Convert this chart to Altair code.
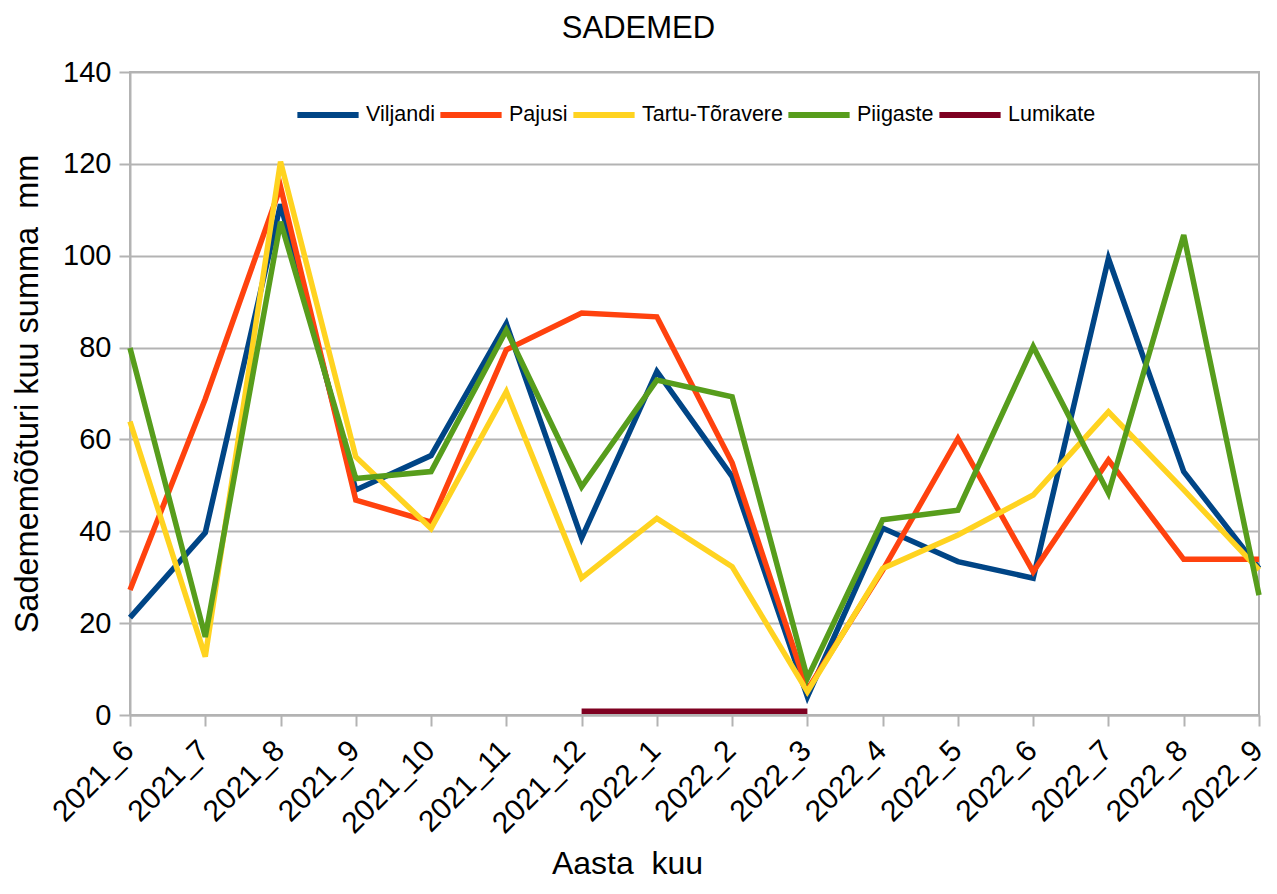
import altair as alt
import pandas as pd

months = ["2021_6", "2021_7", "2021_8", "2021_9", "2021_10", "2021_11", "2021_12",
          "2022_1", "2022_2", "2022_3", "2022_4", "2022_5", "2022_6", "2022_7",
          "2022_8", "2022_9"]
viljandi = [21.2, 39.7, 111.2, 49.0, 56.5, 85.2, 38.5, 74.8, 51.9, 4.0, 40.7, 33.4, 29.8, 99.4, 53.0, 31.9]
pajusi = [27.2, 68.8, 115.0, 46.8, 42.0, 79.5, 87.5, 86.7, 54.9, 5.5, 31.5, 60.2, 31.2, 55.5, 33.9, 33.9]
tartu = [63.9, 12.7, 120.5, 56.2, 40.6, 70.4, 29.8, 42.8, 32.3, 5.1, 31.9, 39.2, 47.9, 66.0, 49.0, 31.6]
piigaste = [79.9, 17.0, 107.4, 51.5, 53.0, 83.8, 49.7, 72.9, 69.3, 8.0, 42.5, 44.6, 80.2, 48.3, 104.5, 26.1]
lumikate_months = ["2021_12", "2022_1", "2022_2", "2022_3"]
lumikate = [0.8, 0.8, 0.8, 0.8]

series_names = ["Viljandi", "Pajusi", "Tartu-Tõravere", "Piigaste", "Lumikate"]
series_colors = ["#004586", "#ff420e", "#ffd320", "#579d1c", "#7e0021"]

rows = []
order = 0
for name, vals in zip(series_names[:4], [viljandi, pajusi, tartu, piigaste]):
    for m, v in zip(months, vals):
        rows.append({"kuu": m, "seeria": name, "väärtus": v, "o": order})
    order += 1
for m, v in zip(lumikate_months, lumikate):
    rows.append({"kuu": m, "seeria": "Lumikate", "väärtus": v, "o": order})
df = pd.DataFrame(rows)

FONT = "Liberation Sans"
GRID = "#b3b3b3"

chart = alt.Chart(df).mark_line(strokeWidth=5.5, strokeJoin="miter").encode(
    x=alt.X("kuu:N", sort=months, scale=alt.Scale(type="point", padding=0),
            axis=alt.Axis(title="Aasta\u00a0 kuu", labelAngle=-45, labelFontSize=30,
                          labelFont=FONT, labelColor="black", tickSize=11,
                          tickColor=GRID, tickWidth=2, domainColor=GRID, domainWidth=2,
                          grid=False, labelAlign="right", labelBaseline="alphabetic",
                          labelPadding=26, labelOffset=5,
                          titleFont=FONT, titleFontSize=32,
                          titleFontWeight="normal", titleColor="black",
                          titleBaseline="alphabetic", titleAlign="center",
                          titleX=497, titleY=158)),
    y=alt.Y("väärtus:Q", scale=alt.Scale(domain=[0, 140], nice=False),
            axis=alt.Axis(title="Sadememõõturi kuu summa\u00a0 mm", values=[0, 20, 40, 60, 80, 100, 120, 140],
                          labelFontSize=29, labelFont=FONT, labelColor="black",
                          tickSize=11, tickColor=GRID, tickWidth=2, domainColor=GRID,
                          domainWidth=2, gridColor=GRID, gridWidth=2, labelPadding=8,
                          titleFont=FONT, titleFontSize=32.5, titleFontWeight="normal",
                          titleColor="black", titleBaseline="alphabetic", titleX=-93)),
    color=alt.Color("seeria:N", scale=alt.Scale(domain=series_names, range=series_colors),
                    legend=alt.Legend(title=None, orient="none", legendX=164, legendY=9,
                                      direction="horizontal", columns=5, symbolType="stroke",
                                      symbolSize=3750, symbolStrokeWidth=6, labelFontSize=21.5,
                                      labelFont=FONT, labelColor="black", columnPadding=-7,
                                      labelOffset=4, padding=0)),
    order=alt.Order("o:Q"),
    detail="seeria:N",
).properties(
    width=1129, height=643,
    title=alt.TitleParams("SADEMED", font=FONT, fontSize=31, fontWeight="normal",
                          color="black", anchor="middle", dx=-56, offset=13),
    autosize=alt.AutoSizeParams(type="none"),
    padding={"left": 122, "top": 64, "right": 10, "bottom": 165},
).configure_view(stroke=GRID, strokeWidth=2)

chart.save("out.html", embed_options={"renderer": "svg", "actions": False})
